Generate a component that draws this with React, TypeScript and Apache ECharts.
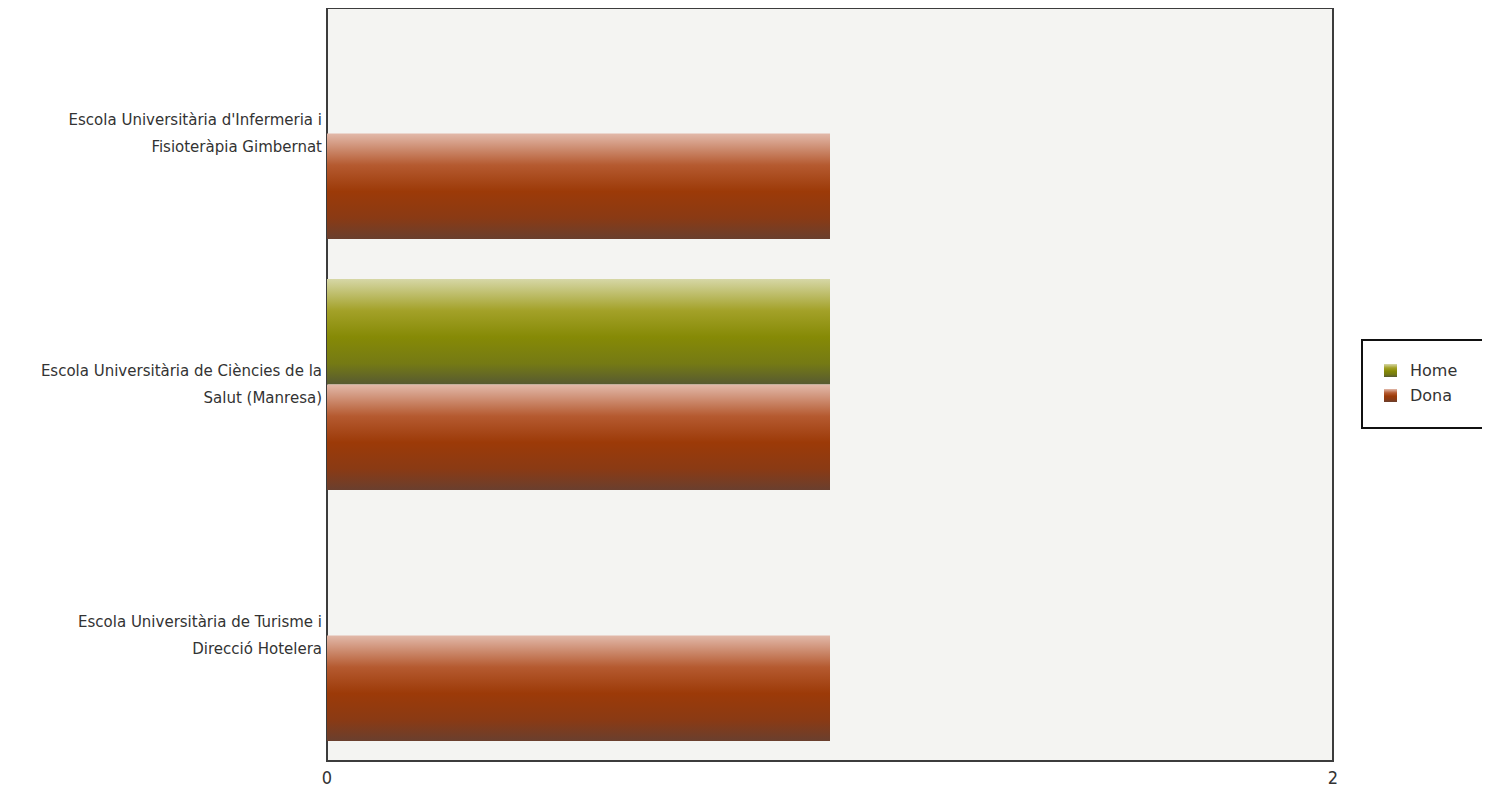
import React, { useEffect, useRef } from "react";
import * as echarts from "echarts";

const categories = [
  "Escola Universitària d'Infermeria i\nFisioteràpia Gimbernat",
  "Escola Universitària de Ciències de la\nSalut (Manresa)",
  "Escola Universitària de Turisme i\nDirecció Hotelera",
];
const homeValues = [0, 1, 0];
const donaValues = [1, 1, 1];
const seriesNames = ["Home", "Dona"];

const homeGradient = new echarts.graphic.LinearGradient(0, 0, 0, 1, [
  { offset: 0, color: "#d6d7a6" },
  { offset: 0.3, color: "#a3a128" },
  { offset: 0.55, color: "#868a06" },
  { offset: 0.8, color: "#757a14" },
  { offset: 1, color: "#575a32" },
]);
const donaGradient = new echarts.graphic.LinearGradient(0, 0, 0, 1, [
  { offset: 0, color: "#e2b9aa" },
  { offset: 0.3, color: "#b55a30" },
  { offset: 0.55, color: "#9c3a08" },
  { offset: 0.8, color: "#8a3a14" },
  { offset: 1, color: "#6a3f2e" },
]);

export default function App() {
  const ref = useRef<HTMLDivElement>(null);
  useEffect(() => {
    if (!ref.current) return;
    const chart = echarts.init(ref.current, null, { renderer: "svg" });
    chart.setOption({
      animation: false,
      grid: {
        left: 327,
        right: 157,
        top: 8,
        bottom: 34,
        show: true,
        backgroundColor: "#f4f4f2",
        borderColor: "#3c3c3c",
        borderWidth: 2,
      },
      legend: {
        orient: "vertical",
        left: 1362,
        top: 340,
        data: seriesNames,
        icon: "rect",
        itemWidth: 13,
        itemHeight: 13,
        itemGap: 8,
        padding: [22, 50, 24, 22],
        borderColor: "#111",
        borderWidth: 2,
        backgroundColor: "#fff",
        textStyle: {
          fontFamily: "DejaVu Sans",
          fontSize: 16,
          color: "#333",
          lineHeight: 17,
          padding: [0, 0, 0, 8],
        },
      },
      xAxis: {
        type: "value",
        min: 0,
        max: 2,
        interval: 2,
        axisLine: { show: false },
        axisTick: { show: false },
        splitLine: { show: false },
        axisLabel: {
          margin: 7,
          fontFamily: "DejaVu Sans Condensed",
          fontSize: 18,
          color: "#333",
        },
      },
      yAxis: {
        type: "category",
        inverse: true,
        data: categories,
        axisLine: { show: false },
        axisTick: { show: false },
        axisLabel: {
          margin: 5,
          fontFamily: "DejaVu Sans",
          fontSize: 15,
          lineHeight: 27,
          color: "#333",
          align: "right",
        },
      },
      series: [
        {
          name: "Home",
          type: "bar",
          data: homeValues,
          barCategoryGap: "16%",
          barGap: "0%",
          itemStyle: { color: homeGradient },
        },
        {
          name: "Dona",
          type: "bar",
          data: donaValues,
          barCategoryGap: "16%",
          barGap: "0%",
          itemStyle: { color: donaGradient },
        },
      ],
    });
    return () => chart.dispose();
  }, []);
  return <div ref={ref} style={{ width: 1490, height: 795, margin: -8 }} />;
}
